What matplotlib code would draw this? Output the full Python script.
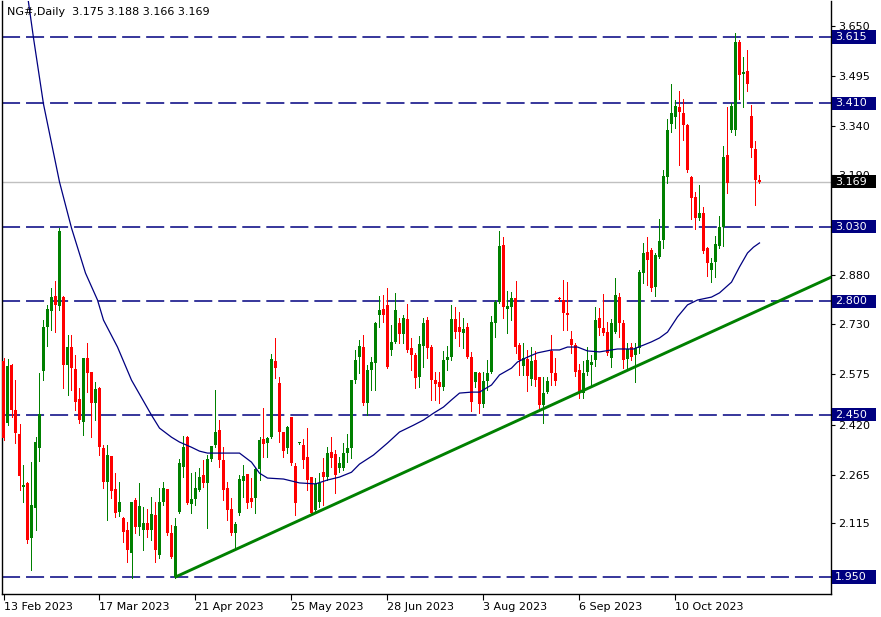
import matplotlib
matplotlib.use('Agg')
import matplotlib.pyplot as plt
import matplotlib.transforms as mtransforms
from matplotlib.patches import Rectangle
import numpy as np

plt.rcParams['font.family'] = ['DejaVu Sans']
plt.rcParams['lines.scale_dashes'] = False

# daily OHLC, bar 0 = 13 Feb 2023
opens = [
    2.616, 2.425, 2.603, 2.465, 2.391, 2.227, 2.240, 2.070, 2.162, 2.347,
    2.585, 2.721, 2.771, 2.816, 2.785, 2.813, 2.603, 2.659, 2.591, 2.499,
    2.428, 2.625, 2.582, 2.486, 2.533, 2.347, 2.243, 2.323, 2.221, 2.150,
    2.132, 2.095, 2.024, 2.187, 2.104, 2.095, 2.116, 2.095, 2.141, 2.018,
    2.181, 2.221, 2.086, 1.950, 2.150, 2.289, 2.381, 2.175, 2.190, 2.218,
    2.264, 2.240, 2.313, 2.357, 2.403, 2.310, 2.224, 2.160, 2.086, 2.147,
    2.246, 2.267, 2.193, 2.193, 2.283, 2.375, 2.363, 2.381, 2.616, 2.548,
    2.397, 2.347, 2.443, 2.292, 2.363, 2.357, 2.320, 2.258, 2.156, 2.181,
    2.273, 2.258, 2.335, 2.329, 2.286, 2.286, 2.332, 2.347, 2.557, 2.628,
    2.659, 2.486, 2.588, 2.610, 2.758, 2.776, 2.788, 2.650, 2.675, 2.733,
    2.699, 2.745, 2.656, 2.634, 2.566, 2.662, 2.742, 2.659, 2.557, 2.551,
    2.536, 2.619, 2.628, 2.745, 2.721, 2.702, 2.721, 2.628, 2.551, 2.579,
    2.483, 2.554, 2.582, 2.733, 2.798, 2.974, 2.776, 2.782, 2.810, 2.665,
    2.600, 2.622, 2.560, 2.619, 2.566, 2.480, 2.520, 2.647, 2.579, 2.808,
    2.804, 2.764, 2.684, 2.665, 2.588, 2.517, 2.582, 2.603, 2.619, 2.748,
    2.718, 2.705, 2.625, 2.705, 2.813, 2.733, 2.622, 2.659, 2.634, 2.656,
    2.887, 2.952, 2.958, 2.844, 2.936, 2.989, 3.183, 3.347, 3.368, 3.399,
    3.381, 3.344, 3.183, 3.121, 3.057, 3.072, 2.964, 2.896, 2.921, 2.970,
    3.029, 3.251, 3.328, 3.328, 3.600, 3.501, 3.510, 3.371, 3.270, 3.175,
]
highs = [
    2.625, 2.622, 2.606, 2.557, 2.422, 2.295, 2.243, 2.304, 2.381, 2.579,
    2.742, 2.789, 2.842, 2.862, 3.026, 2.816, 2.696, 2.696, 2.634, 2.533,
    2.625, 2.671, 2.582, 2.551, 2.536, 2.357, 2.357, 2.323, 2.270, 2.243,
    2.135, 2.119, 2.181, 2.193, 2.240, 2.166, 2.160, 2.196, 2.181, 2.224,
    2.243, 2.221, 2.110, 2.132, 2.313, 2.384, 2.384, 2.270, 2.273, 2.286,
    2.310, 2.326, 2.353, 2.526, 2.434, 2.350, 2.243, 2.193, 2.119, 2.264,
    2.295, 2.267, 2.255, 2.286, 2.381, 2.471, 2.381, 2.637, 2.687, 2.567,
    2.397, 2.415, 2.443, 2.301, 2.366, 2.375, 2.409, 2.258, 2.255, 2.270,
    2.317, 2.350, 2.381, 2.341, 2.320, 2.363, 2.391, 2.557, 2.650, 2.681,
    2.696, 2.603, 2.628, 2.736, 2.816, 2.819, 2.842, 2.727, 2.826, 2.748,
    2.758, 2.792, 2.687, 2.640, 2.693, 2.748, 2.751, 2.665, 2.582, 2.582,
    2.647, 2.662, 2.789, 2.782, 2.767, 2.748, 2.733, 2.644, 2.582, 2.582,
    2.582, 2.619, 2.755, 2.804, 3.017, 2.998, 2.832, 2.829, 2.862, 2.671,
    2.671, 2.650, 2.659, 2.647, 2.566, 2.566, 2.566, 2.696, 2.625, 2.813,
    2.866, 2.859, 2.708, 2.671, 2.607, 2.616, 2.659, 2.634, 2.782, 2.779,
    2.823, 2.736, 2.745, 2.872, 2.826, 2.742, 2.671, 2.671, 2.671, 2.896,
    2.980, 2.998, 2.964, 2.949, 3.054, 3.205, 3.362, 3.470, 3.421, 3.448,
    3.424, 3.347, 3.186, 3.137, 3.158, 3.091, 2.967, 2.933, 3.001, 3.063,
    3.279, 3.399, 3.411, 3.627, 3.606, 3.553, 3.575, 3.405, 3.294, 3.188,
]
lows = [
    2.372, 2.419, 2.443, 2.363, 2.218, 2.181, 2.055, 1.971, 2.095, 2.307,
    2.557, 2.662, 2.711, 2.705, 2.773, 2.533, 2.511, 2.526, 2.465, 2.425,
    2.388, 2.520, 2.381, 2.434, 2.326, 2.224, 2.126, 2.193, 2.135, 2.138,
    2.058, 1.996, 1.947, 2.086, 2.079, 2.033, 2.073, 2.064, 1.996, 2.008,
    2.172, 2.079, 2.008, 1.947, 2.147, 2.258, 2.175, 2.147, 2.172, 2.215,
    2.227, 2.101, 2.307, 2.350, 2.289, 2.187, 2.126, 2.079, 2.033, 2.141,
    2.196, 2.162, 2.166, 2.147, 2.249, 2.320, 2.320, 2.378, 2.564, 2.366,
    2.320, 2.332, 2.295, 2.141, 2.360, 2.286, 2.218, 2.141, 2.150, 2.166,
    2.172, 2.249, 2.289, 2.209, 2.273, 2.280, 2.304, 2.317, 2.548, 2.579,
    2.480, 2.449, 2.526, 2.526, 2.721, 2.736, 2.594, 2.634, 2.671, 2.671,
    2.671, 2.644, 2.588, 2.533, 2.536, 2.597, 2.625, 2.496, 2.496, 2.486,
    2.526, 2.588, 2.619, 2.687, 2.662, 2.656, 2.625, 2.462, 2.536, 2.456,
    2.474, 2.526, 2.579, 2.690, 2.795, 2.748, 2.702, 2.742, 2.641, 2.573,
    2.573, 2.523, 2.542, 2.539, 2.465, 2.425, 2.517, 2.542, 2.542, 2.801,
    2.711, 2.711, 2.641, 2.570, 2.502, 2.502, 2.573, 2.542, 2.600, 2.696,
    2.696, 2.634, 2.597, 2.702, 2.690, 2.594, 2.594, 2.619, 2.551, 2.641,
    2.856, 2.850, 2.832, 2.816, 2.933, 2.964, 3.165, 3.322, 3.334, 3.220,
    3.297, 3.199, 3.054, 3.023, 3.051, 2.949, 2.878, 2.859, 2.875, 2.964,
    2.970, 3.134, 3.322, 3.313, 3.424, 3.399, 3.448, 3.245, 3.097, 3.166,
]
closes = [
    2.378, 2.600, 2.465, 2.394, 2.261, 2.233, 2.064, 2.172, 2.366, 2.452,
    2.721, 2.776, 2.814, 2.788, 3.017, 2.603, 2.659, 2.594, 2.489, 2.434,
    2.625, 2.579, 2.486, 2.529, 2.350, 2.243, 2.326, 2.215, 2.147, 2.181,
    2.089, 2.033, 2.181, 2.104, 2.169, 2.116, 2.095, 2.144, 2.033, 2.181,
    2.224, 2.086, 2.011, 2.107, 2.301, 2.350, 2.178, 2.190, 2.224, 2.258,
    2.240, 2.313, 2.353, 2.397, 2.310, 2.218, 2.156, 2.086, 2.113, 2.252,
    2.261, 2.178, 2.181, 2.283, 2.372, 2.360, 2.378, 2.622, 2.594, 2.397,
    2.338, 2.412, 2.301, 2.178, 2.363, 2.310, 2.249, 2.147, 2.236, 2.240,
    2.258, 2.332, 2.317, 2.264, 2.301, 2.332, 2.347, 2.557, 2.619, 2.662,
    2.486, 2.588, 2.613, 2.733, 2.773, 2.758, 2.597, 2.675, 2.773, 2.699,
    2.748, 2.650, 2.634, 2.563, 2.668, 2.733, 2.656, 2.557, 2.545, 2.536,
    2.619, 2.628, 2.745, 2.705, 2.705, 2.715, 2.628, 2.489, 2.582, 2.483,
    2.554, 2.579, 2.736, 2.798, 2.971, 2.782, 2.785, 2.810, 2.659, 2.619,
    2.625, 2.570, 2.616, 2.557, 2.480, 2.517, 2.554, 2.579, 2.554, 2.806,
    2.764, 2.758, 2.665, 2.582, 2.517, 2.579, 2.619, 2.613, 2.742, 2.718,
    2.702, 2.641, 2.733, 2.820, 2.733, 2.619, 2.653, 2.628, 2.656, 2.890,
    2.949, 2.927, 2.841, 2.943, 2.986, 3.186, 3.328, 3.381, 3.402, 3.384,
    3.344, 3.205, 3.118, 3.057, 3.072, 2.955, 2.918, 2.918, 2.977, 3.029,
    3.245, 3.165, 3.402, 3.600, 3.498, 3.507, 3.470, 3.273, 3.174, 3.169,
]

# moving average at these bars
ma_bar = [6, 7.5, 10, 14, 17, 20.5, 23.5, 25, 28.5, 32,
          37, 39, 42, 44, 47, 49, 51, 55, 59, 62,
          64, 66, 70, 74, 78, 81, 84, 87, 89, 92.5,
          96, 99, 102.5, 105, 107.5, 110, 112, 114, 117, 119,
          122, 124, 127, 128.5, 131, 133.5, 137, 139, 141, 143.5,
          146, 149, 153.5, 157.5, 160, 162, 164, 166, 168.5, 171,
          173.5, 177, 179, 182, 184, 186, 187.5, 189]
ma_val = [3.744, 3.612, 3.408, 3.168, 3.026, 2.887, 2.804, 2.742, 2.659, 2.557,
          2.449, 2.409, 2.381, 2.366, 2.350, 2.338, 2.332, 2.332, 2.332, 2.304,
          2.270, 2.255, 2.252, 2.240, 2.237, 2.249, 2.258, 2.273, 2.298, 2.326,
          2.363, 2.397, 2.418, 2.434, 2.455, 2.474, 2.496, 2.517, 2.520, 2.520,
          2.542, 2.573, 2.594, 2.613, 2.628, 2.641, 2.650, 2.650, 2.659, 2.659,
          2.647, 2.644, 2.653, 2.653, 2.665, 2.675, 2.687, 2.705, 2.752, 2.789,
          2.804, 2.813, 2.826, 2.859, 2.906, 2.949, 2.967, 2.980]

trend_bars = [43, 207]
trend_vals = [1.950, 2.875]

levels = [3.615, 3.410, 3.030, 2.800, 2.450, 1.950]
last_price = 3.169

yticks = [3.650, 3.495, 3.340, 3.190, 2.880, 2.730, 2.575, 2.420, 2.265, 2.115, 1.960]
xtick_bars = [0, 24, 48, 72, 96, 120, 144, 168]
xtick_labels = ['13 Feb 2023', '17 Mar 2023', '21 Apr 2023', '25 May 2023',
                '28 Jun 2023', '3 Aug 2023', '6 Sep 2023', '10 Oct 2023']

W, H = 881, 617
fig = plt.figure(figsize=(W / 100, H / 100), dpi=100)
ax = fig.add_axes([2 / W, 23 / H, 829 / W, 593 / H])

o = np.array(opens)
h = np.array(highs)
l = np.array(lows)
c = np.array(closes)
idx = np.arange(len(c))
cols = np.where(c >= o, '#008000', '#ff0000')

ax.axhline(last_price, color='#c0c0c0', lw=1, zorder=1)
for lv in levels:
    ax.axhline(lv, color='#000080', lw=1.1, dashes=(13, 4.3), zorder=1)

# 4 px per bar, bodies 3 px, wicks 1 px
ax.vlines(idx, l, h, colors=cols, lw=0.72, zorder=3, antialiased=False)
body_h = np.maximum(np.abs(c - o), 0.003)
ax.bar(idx, body_h, bottom=np.minimum(o, c), width=0.75, color=cols,
       linewidth=0, zorder=3, antialiased=False)

ax.plot(ma_bar, ma_val, color='#000080', lw=0.9, zorder=4)
ax.plot(trend_bars, trend_vals, color='#008000', lw=2.1, zorder=4,
        solid_capstyle='butt')

# price boxes on the right scale
trans = mtransforms.blended_transform_factory(fig.transFigure, ax.transData)
for lv, fc in [(v, '#000080') for v in levels] + [(last_price, 'black')]:
    ax.add_patch(Rectangle((832 / W, lv - 0.0205), 44 / W, 0.041, transform=trans,
                           fc=fc, ec='none', clip_on=False, zorder=6))
    ax.text(835 / W, lv, '%.3f' % lv, transform=trans, color='white', fontsize=8,
            ha='left', va='center', zorder=7, clip_on=False)

ax.yaxis.tick_right()
ax.set_yticks(yticks)
ax.set_yticklabels(['%.3f' % v for v in yticks])
ax.tick_params(axis='y', length=3, pad=2, labelsize=8, width=0.8)
ax.set_xticks(xtick_bars)
ax.set_xticklabels(xtick_labels)
for t in ax.get_xticklabels():
    t.set_ha('left')
ax.tick_params(axis='x', length=4, pad=2, labelsize=8, width=0.8)

for s in ['left', 'right', 'bottom']:
    ax.spines[s].set_linewidth(1)
ax.spines['top'].set_visible(False)

ax.set_xlim(-0.375, 206.875)
ax.set_ylim(1.8975, 3.726)

fig.text(7 / W, 1 - 12 / H, 'NG#,Daily  3.175 3.188 3.166 3.169', fontsize=8,
         va='center', ha='left')

fig.savefig('out.png', dpi=100)
